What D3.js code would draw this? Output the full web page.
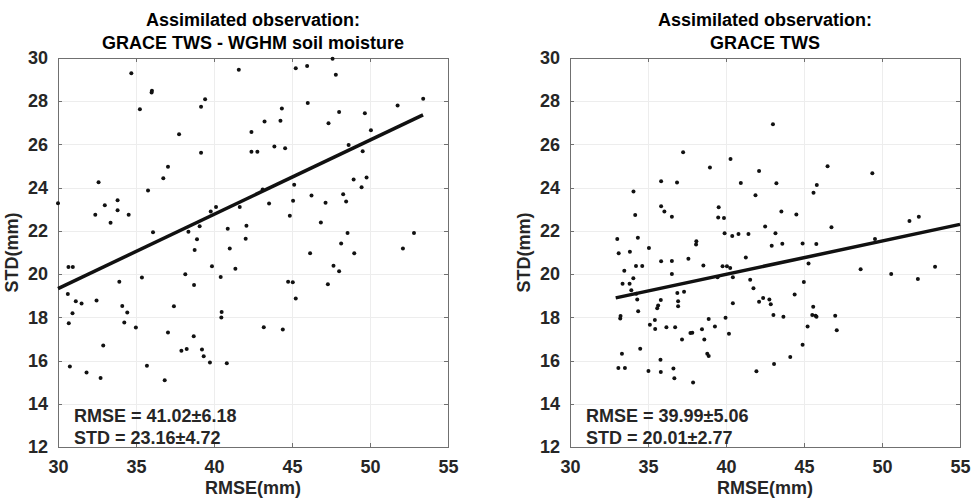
<!DOCTYPE html>
<html>
<head>
<meta charset="utf-8">
<script src="https://cdn.jsdelivr.net/npm/d3@7"></script>
<style>
  body { margin: 0; background: #fff; }
  svg text { font-family: "Liberation Sans", Arial, sans-serif; font-weight: bold; }
</style>
</head>
<body>
<div id="chart"></div>
<script>
// tick values shared by both panels
const xTicks = [30, 35, 40, 45, 50, 55];
const yTicks = [12, 14, 16, 18, 20, 22, 24, 26, 28, 30];

const titlesLeft = ["Assimilated observation:", "GRACE TWS - WGHM soil moisture"];
const titlesRight = ["Assimilated observation:", "GRACE TWS"];
const statsLeft = ["RMSE = 41.02\u00b16.18", "STD = 23.16\u00b14.72"];
const statsRight = ["RMSE = 39.99\u00b15.06", "STD = 20.01\u00b12.77"];

// [RMSE, STD] pairs
const leftPoints = [
  [30.0,23.28],[34.70,29.29],[36.02,28.49],[36.0,28.40],[35.25,27.63],[39.17,27.75],[39.43,28.09],
  [37.76,26.47],[39.17,25.61],[37.05,24.97],[36.75,24.44],[32.60,24.25],[35.77,23.87],[33.82,23.42],
  [33.0,23.19],[33.82,22.95],[32.39,22.75],[34.53,22.75],[33.37,22.38],[39.79,22.90],[40.13,23.10],
  [41.65,23.10],[36.09,21.94],[38.36,21.96],[39.08,22.21],[38.91,21.61],[38.76,21.11],[40.88,22.10],
  [41.01,21.18],[41.59,29.46],[45.24,29.52],[45.97,29.63],[47.60,29.97],[47.81,29.23],[46.01,27.92],
  [44.35,27.66],[44.26,27.10],[43.24,27.06],[42.40,26.58],[42.40,25.66],[42.78,25.66],[43.87,25.90],
  [44.56,25.82],[48.02,27.50],[47.34,26.98],[49.67,27.44],[50.06,26.66],[51.77,27.80],[53.41,28.12],
  [48.63,25.98],[49.53,25.69],[48.95,24.38],[49.78,24.47],[49.46,24.02],[45.14,24.13],[46.25,23.64],
  [45.07,23.39],[43.12,23.92],[43.53,23.27],[47.15,23.30],[48.28,23.70],[48.47,23.36],[44.86,22.70],
  [46.85,22.39],[42.08,22.24],[42.03,21.64],[48.56,21.90],[52.82,21.90],[48.15,21.42],[46.16,20.97],
  [48.99,20.96],[52.11,21.19],[30.67,20.33],[30.95,20.33],[30.63,19.08],[31.14,18.74],[31.51,18.64],
  [32.47,18.78],[30.93,18.19],[30.69,17.73],[30.76,15.73],[31.83,15.45],[32.73,15.19],[32.90,16.70],
  [33.93,19.65],[35.38,19.84],[34.12,18.53],[34.44,18.22],[34.25,17.76],[34.99,17.53],[35.70,15.76],
  [36.84,15.09],[37.05,17.30],[37.43,18.51],[37.91,16.45],[38.25,16.54],[38.16,19.99],[38.72,19.50],
  [38.70,17.13],[39.23,16.51],[39.34,16.20],[39.74,15.91],[39.87,20.36],[40.43,19.87],[40.49,18.25],
  [40.47,17.99],[40.82,15.87],[41.37,20.25],[44.75,19.65],[45.05,19.62],[45.24,18.87],[47.66,20.39],
  [48.02,20.13],[47.30,19.53],[43.19,17.54],[44.41,17.44]
];

const rightPoints = [
  [37.25,25.64],[38.97,24.93],[40.29,25.33],[35.84,24.30],[36.86,24.24],[34.07,23.82],[40.95,24.22],
  [41.89,23.65],[42.12,24.77],[34.18,22.74],[35.84,23.14],[36.05,22.90],[36.53,22.65],[39.53,23.09],
  [39.50,22.62],[39.87,22.60],[39.91,21.89],[40.40,21.76],[40.80,21.86],[41.44,21.86],[33.03,21.63],
  [34.35,21.68],[35.06,21.21],[33.12,20.96],[33.84,21.03],[38.10,21.52],[38.08,21.37],[37.59,20.71],
  [41.27,20.77],[35.84,20.59],[36.53,20.61],[43.01,26.94],[43.23,24.20],[46.51,24.99],[45.82,24.12],
  [45.61,23.76],[49.38,24.67],[43.55,22.90],[44.51,22.76],[42.51,22.20],[46.76,22.17],[43.17,21.89],
  [42.93,21.31],[43.61,21.40],[44.91,21.42],[45.79,21.39],[49.55,21.62],[51.76,22.46],[52.36,22.65],
  [33.48,20.15],[33.37,19.55],[33.82,19.55],[34.06,19.81],[33.93,19.25],[34.23,20.37],[34.63,20.37],
  [34.25,19.09],[34.31,18.83],[34.37,18.28],[33.24,18.06],[33.22,17.95],[33.33,16.32],[33.10,15.66],
  [33.52,15.66],[34.50,16.55],[35.03,15.52],[35.12,17.66],[35.44,17.88],[35.46,17.46],[35.59,18.42],
  [35.65,18.55],[35.82,18.80],[36.53,20.0],[35.80,16.04],[35.82,15.47],[36.18,17.54],[36.63,15.63],
  [36.69,15.18],[36.74,17.54],[36.88,19.13],[36.93,18.75],[36.93,18.51],[37.31,19.18],[37.18,16.98],
  [37.72,17.27],[37.84,17.29],[37.89,14.98],[38.46,17.45],[38.55,20.40],[38.61,16.98],[38.89,17.92],
  [38.80,16.32],[38.89,16.21],[39.29,17.58],[39.46,19.86],[39.78,20.36],[40.06,20.36],[40.27,20.28],
  [40.44,19.85],[39.97,17.98],[40.19,17.24],[40.44,18.65],[41.55,19.74],[41.76,19.35],[42.12,18.72],
  [41.95,15.51],[45.29,20.49],[48.63,20.23],[50.59,20.0],[52.30,19.77],[53.40,20.34],[44.99,19.64],
  [44.40,19.06],[42.38,18.90],[42.78,18.83],[42.87,18.60],[43.04,18.11],[43.68,18.03],[45.59,18.49],
  [45.53,18.11],[45.74,18.07],[45.80,18.03],[47.0,18.07],[45.23,17.58],[47.10,17.40],[44.91,16.73],
  [44.12,16.17],[43.08,15.84]
];

// fitted line end points as drawn
const leftFit = [[30.0, 19.33], [53.4, 27.37]];
const rightFit = [[32.93, 18.9], [55.0, 22.3]];

const W = 976, H = 500;
const svg = d3.select("#chart").append("svg")
  .attr("width", W)
  .attr("height", H);

function drawPanel(left, titles, points, fit, stats) {
  var width = 390, height = 389, top = 58;
  var g = svg.append("g").attr("transform", "translate(" + left + "," + top + ")");

  var x = d3.scaleLinear().domain([30, 55]).range([0, width]);
  var y = d3.scaleLinear().domain([12, 30]).range([height, 0]);

  // grid
  var grid = g.append("g").attr("class", "grid");
  grid.append("g")
    .attr("transform", "translate(0," + height + ")")
    .call(d3.axisBottom(x).tickValues(xTicks).tickSize(-height).tickFormat(""));
  grid.append("g")
    .call(d3.axisLeft(y).tickValues(yTicks).tickSize(-width).tickFormat(""));
  grid.selectAll(".domain").remove();
  grid.selectAll("line")
    .style("stroke", "#ededed")
    .attr("shape-rendering", "crispEdges");

  // box with inward ticks, like matlab
  var box = g.append("g").attr("class", "box");
  box.append("g")
    .attr("transform", "translate(0," + height + ")")
    .call(d3.axisBottom(x).tickValues(xTicks).tickSizeInner(-4).tickSizeOuter(0).tickPadding(13));
  box.append("g")
    .call(d3.axisTop(x).tickValues(xTicks).tickSizeInner(-4).tickSizeOuter(0).tickFormat(""));
  box.append("g")
    .call(d3.axisLeft(y).tickValues(yTicks).tickSizeInner(-4).tickSizeOuter(0).tickPadding(10));
  box.append("g")
    .attr("transform", "translate(" + width + ",0)")
    .call(d3.axisRight(y).tickValues(yTicks).tickSizeInner(-4).tickSizeOuter(0).tickFormat(""));

  box.selectAll(".domain, .tick line")
    .attr("stroke", "#707070")
    .attr("shape-rendering", "crispEdges");
  box.selectAll(".tick text")
    .style("font-size", "18px")
    .style("font-family", "'Liberation Sans', Arial, sans-serif")
    .style("font-weight", "bold")
    .attr("fill", "#262626");

  // points
  g.append("g").selectAll("circle")
    .data(points)
    .enter()
    .append("circle")
      .attr("cx", d => x(d[0]))
      .attr("cy", d => y(d[1]))
      .attr("r", 2)
      .attr("fill", "#111");

  // fit line
  g.append("path")
    .datum(fit)
    .attr("d", d3.line().x(d => x(d[0])).y(d => y(d[1])))
    .attr("stroke", "#111")
    .attr("stroke-width", 3.5)
    .attr("fill", "none");

  // stats text
  g.selectAll(".stat")
    .data(stats)
    .enter()
    .append("text")
      .attr("class", "stat")
      .attr("x", 16)
      .attr("y", (d, i) => height - 25 + i * 22)
      .style("font-size", "18px")
      .attr("fill", "#262626")
      .text(d => d);

  // titles
  g.selectAll(".ttl")
    .data(titles)
    .enter()
    .append("text")
      .attr("class", "ttl")
      .attr("x", width / 2)
      .attr("y", (d, i) => -32 + i * 23)
      .attr("text-anchor", "middle")
      .style("font-size", "18px")
      .attr("fill", "#000")
      .text(d => d);

  // axis labels
  g.append("text")
    .attr("x", width / 2)
    .attr("y", height + 47)
    .attr("text-anchor", "middle")
    .style("font-size", "18px")
    .attr("fill", "#262626")
    .text("RMSE(mm)");

  g.append("text")
    .attr("transform", "rotate(-90)")
    .attr("x", -height / 2)
    .attr("y", -40)
    .attr("text-anchor", "middle")
    .style("font-size", "18px")
    .attr("fill", "#262626")
    .text("STD(mm)");
}

drawPanel(58, titlesLeft, leftPoints, leftFit, statsLeft);
drawPanel(570, titlesRight, rightPoints, rightFit, statsRight);
</script>
</body>
</html>
